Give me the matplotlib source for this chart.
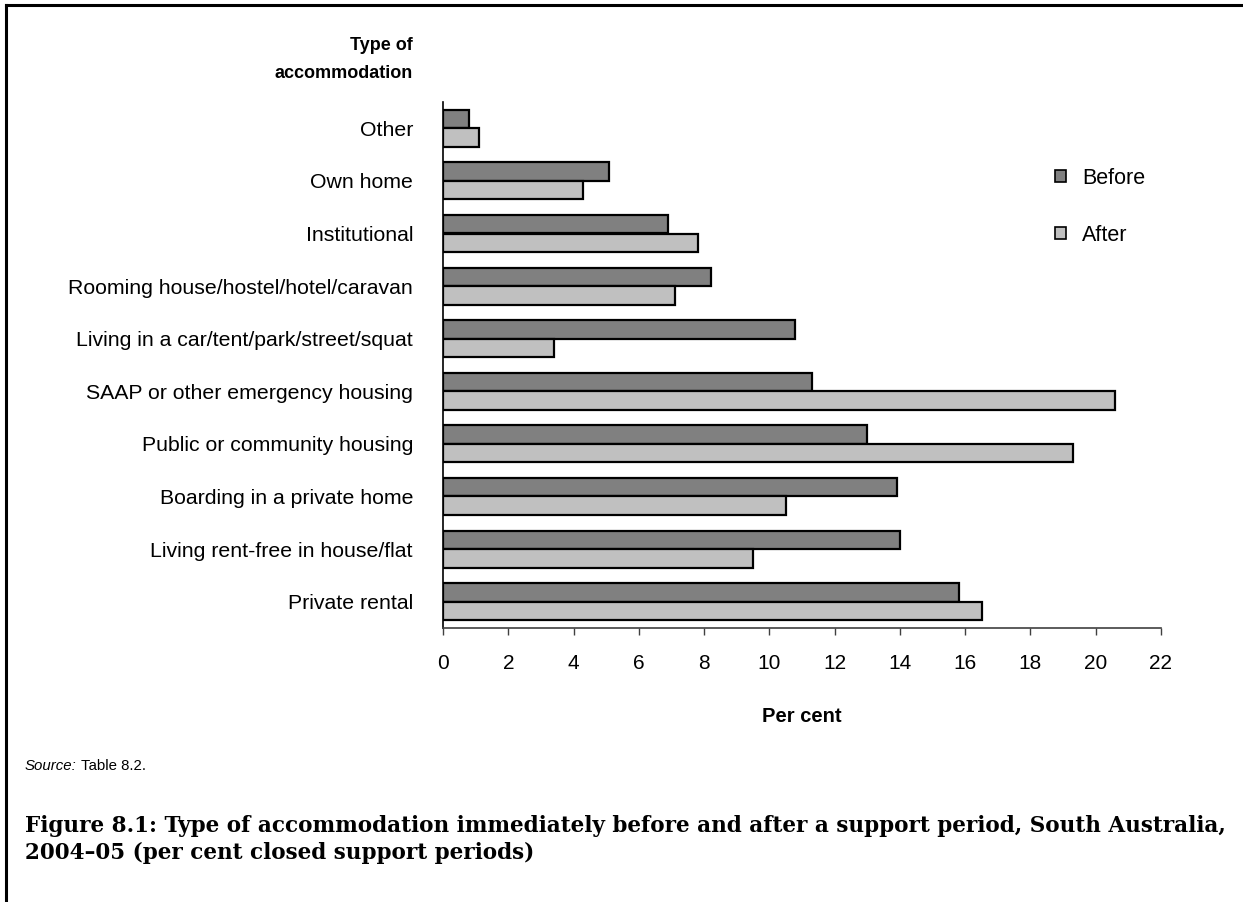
import numpy as np
import matplotlib
matplotlib.use("Agg")
import matplotlib.pyplot as plt
from matplotlib.patches import Patch
from matplotlib.lines import Line2D

# Data (per cent of closed support periods)
categories = [
    "Other",
    "Own home",
    "Institutional",
    "Rooming house/hostel/hotel/caravan",
    "Living in a car/tent/park/street/squat",
    "SAAP or other emergency housing",
    "Public or community housing",
    "Boarding in a private home",
    "Living rent-free in house/flat",
    "Private rental",
]
before = [0.8, 5.1, 6.9, 8.2, 10.8, 11.3, 13.0, 13.9, 14.0, 15.8]
after = [1.1, 4.3, 7.8, 7.1, 3.4, 20.6, 19.3, 10.5, 9.5, 16.5]
x_ticks = list(range(0, 23, 2))

plt.rcParams['font.family'] = ['Liberation Sans', 'DejaVu Sans']

W, H = 1243, 902
fig = plt.figure(figsize=(W / 100, H / 100), dpi=100)
fig.patch.set_facecolor('white')

# axes placed in pixel terms of the reference
left, right, top, bottom = 443, 1161, 102, 628
ax = fig.add_axes([left / W, 1 - bottom / H, (right - left) / W, (bottom - top) / H])

y = np.arange(len(categories))
h = 0.35
ax.barh(y - h / 2, before, height=h, color='#808080', edgecolor='black', linewidth=1.6, label='Before')
ax.barh(y + h / 2, after, height=h, color='#c0c0c0', edgecolor='black', linewidth=1.6, label='After')

ax.set_ylim(len(categories) - 0.5, -0.5)
ax.set_xlim(0, 22)
ax.set_xticks(x_ticks)
ax.set_xticklabels([str(t) for t in x_ticks], fontsize=15)
ax.set_yticks(y)
ax.set_yticklabels(categories, fontsize=15.3)
ax.tick_params(axis='y', length=0, pad=21.6)
ax.tick_params(axis='x', direction='out', length=5, width=1, color='#404040', pad=14)

for s in ['top', 'right']:
    ax.spines[s].set_visible(False)
ax.spines['left'].set_linewidth(1.2)
ax.spines['bottom'].set_linewidth(1.2)
ax.spines['bottom'].set_color('#404040')

ax.set_xlabel('Per cent', fontsize=14.5, fontweight='bold', labelpad=24)

# legend
handles = [Patch(facecolor='#808080', edgecolor='black', linewidth=1.2),
           Patch(facecolor='#c0c0c0', edgecolor='black', linewidth=1.2)]
fig.legend(handles, ['Before', 'After'], loc='upper left', frameon=False,
           bbox_to_anchor=(1055 / W, 1 - 168 / H), bbox_transform=fig.transFigure,
           fontsize=15.5, handlelength=0.5, handleheight=0.5, handletextpad=0.75,
           labelspacing=1.65, borderpad=0, borderaxespad=0)

# y axis title
fig.text(413 / W, 1 - 45 / H, 'Type of', ha='right', va='center', fontsize=13, fontweight='bold')
fig.text(413 / W, 1 - 73 / H, 'accommodation', ha='right', va='center', fontsize=13, fontweight='bold')

# source note
src = fig.text(25 / W, 1 - 766 / H, 'Source:', ha='left', va='center', fontsize=10.8, style='italic')
fig.canvas.draw()
bb = src.get_window_extent()
fig.text((bb.x1 + 4) / W, 1 - 766 / H, 'Table 8.2.', ha='left', va='center', fontsize=10.8)

# caption
cap1 = 'Figure 8.1: Type of accommodation immediately before and after a support period, South Australia,'
cap2 = '2004\u201305 (per cent closed support periods)'
fig.text(25 / W, 1 - 826 / H, cap1, ha='left', va='center', fontsize=15.5,
         fontweight='bold', family='DejaVu Serif')
fig.text(25 / W, 1 - 853 / H, cap2, ha='left', va='center', fontsize=15.5,
         fontweight='bold', family='DejaVu Serif')

# frame lines (left and top only)
fig.add_artist(Line2D([6 / W, 6 / W], [0, 1 - 5 / H], transform=fig.transFigure, color='black', linewidth=2.2))
fig.add_artist(Line2D([6 / W, 1], [1 - 5 / H, 1 - 5 / H], transform=fig.transFigure, color='black', linewidth=2.2))

fig.savefig('out.png', dpi=100)
